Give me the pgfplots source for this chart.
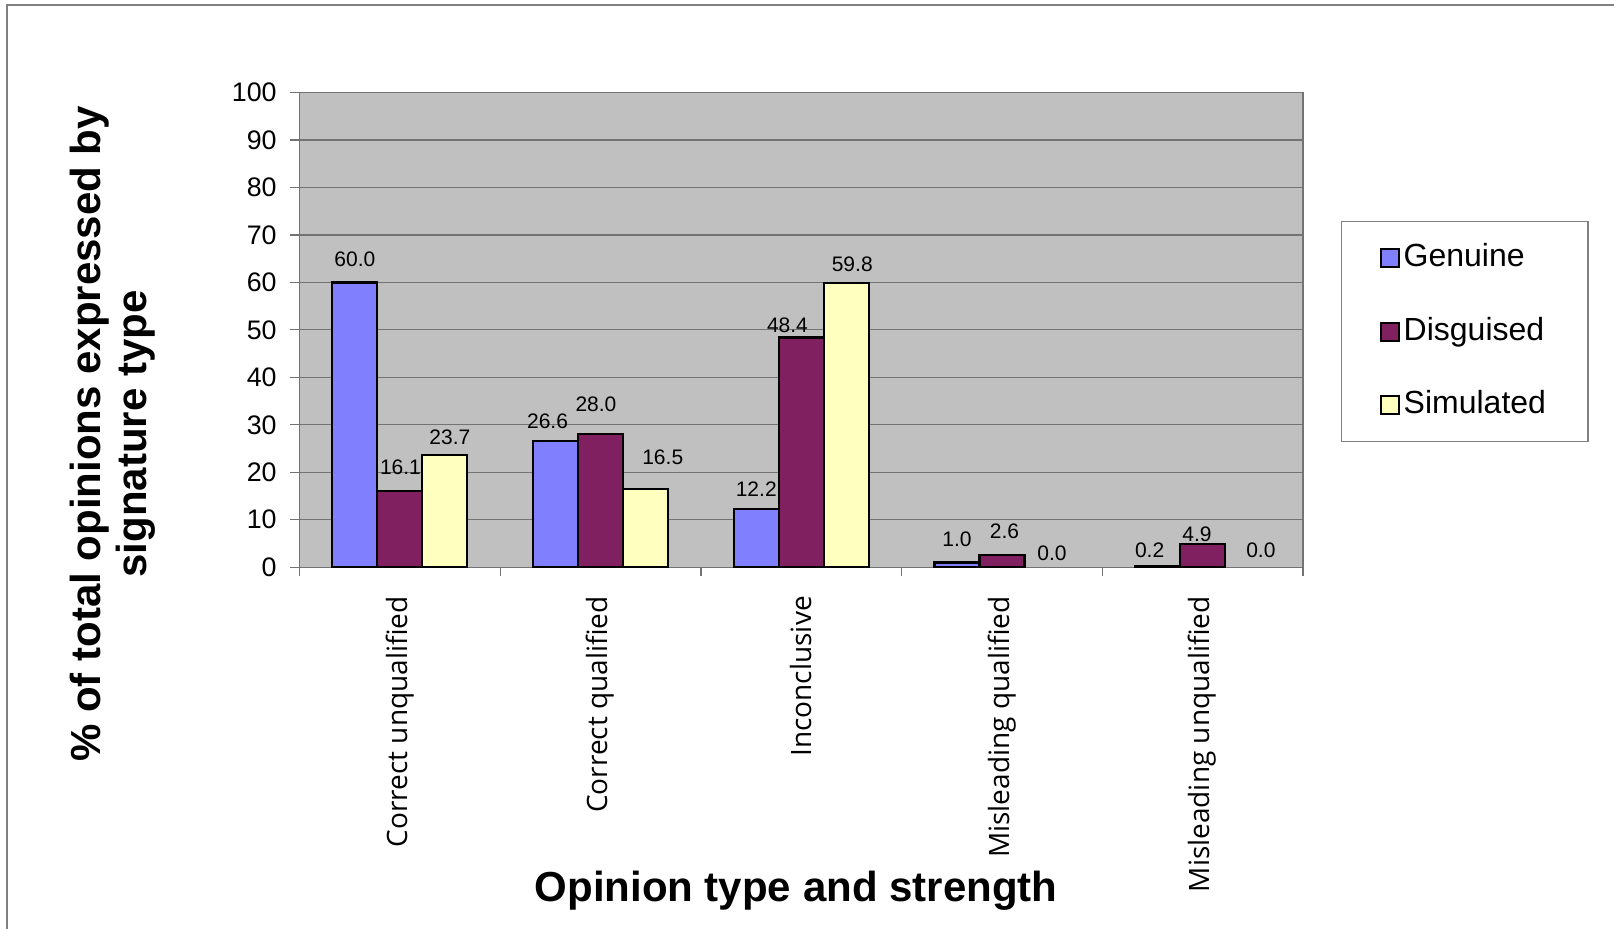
\documentclass[border=0pt]{standalone}
\usepackage{pgfplots}
\usepackage{pgfplotstable}
\pgfplotsset{compat=1.18}
\usepackage{fontspec}
\setmainfont{Liberation Sans}
\newfontfamily\osfont{Open Sans}
\definecolor{genuine}{RGB}{128,128,255}
\definecolor{disguised}{RGB}{128,32,96}
\definecolor{simulated}{RGB}{255,255,192}
\definecolor{plotbg}{RGB}{192,192,192}
\definecolor{framegray}{RGB}{128,128,128}

% x = category, y = percent, dx/dy = label offset (pt)
\pgfplotstableread{
x y dx dy
0 60.0 0.0 11.5
1 26.6 -4.0 10.0
2 12.2 0.0 10.2
3 1.0 0.0 11.5
4 0.2 -4.0 7.8
}\genuine
\pgfplotstableread{
x y dx dy
0 16.1 0.3 11.7
1 28.0 -2.3 14.9
2 48.4 -6.9 6.1
3 2.6 1.3 11.8
4 4.9 -2.8 4.8
}\disguised
\pgfplotstableread{
x y dx dy
0 23.7 2.5 8.6
1 16.5 8.6 15.9
2 59.8 3.0 9.4
}\simulated
% zero values: label only, no visible bar
\pgfplotstableread{
x y dx dy
3 0.0 2.5 7.2
4 0.0 6.6 8.7
}\simzero

\begin{document}
\begin{tikzpicture}
\useasboundingbox (0,0) rectangle (807pt,-464.5pt);
\draw[framegray, line width=1pt] (3.6pt,-470pt) -- (3.6pt,-2.6pt) -- (815pt,-2.6pt);

\begin{axis}[
    at={(149.75pt,-283.6pt)}, anchor=south west,
    scale only axis, width=501.75pt, height=237.3pt,
    axis background/.style={fill=plotbg},
    ybar=0pt, bar width=22.5pt,
    xmin=-0.5, xmax=4.5, ymin=0, ymax=100,
    xtick={0,...,4},
    xticklabels={Correct unqualified, Correct qualified, Inconclusive, Misleading qualified, Misleading unqualified},
    xticklabel style={font=\osfont\fontsize{14}{16}\selectfont, rotate=90, anchor=east, xshift=-6.5pt},
    xtick style={draw=none},
    extra x ticks={-0.5,0.5,1.5,2.5,3.5,4.5},
    extra x tick labels={},
    extra x tick style={xtick style={draw=black!55, line width=0.6pt}},
    xtick pos=bottom, ytick pos=left,
    ytick={0,10,...,100},
    ytick style={draw=black!55, line width=0.6pt},
    yticklabel style={font=\fontsize{13.4}{16}\selectfont, xshift=-3.4pt},
    /pgf/number format/assume math mode=true,
    tick align=outside, major tick length=4.5pt,
    ymajorgrids, major grid style={draw=black!55, line width=0.6pt},
    axis line style={draw=black!55, line width=0.6pt},
    every axis plot/.append style={draw=black, line width=1.1pt},
    nodes near coords={\pgfmathprintnumber[fixed,fixed zerofill,precision=1,assume math mode=true]{\pgfplotspointmeta}},
    visualization depends on={\thisrow{dx} \as \dx},
    visualization depends on={\thisrow{dy} \as \dy},
    every node near coord/.append style={font=\fontsize{10.5}{12}\selectfont, anchor=center, xshift=\dx pt, yshift=\dy pt, text=black},
    legend style={at={(1.038,0.7295)}, anchor=north west, draw=framegray, line width=0.6pt,
        font=\fontsize{16}{19}\selectfont, row sep=17.3pt, inner xsep=19pt, inner ysep=8.5pt,
        nodes={text height=12pt, text depth=3.5pt, inner sep=2pt}},
    legend cell align=left,
    legend image code/.code={\draw[#1, line width=1pt] (0pt,-4.5pt) rectangle (9pt,4.5pt);},
]
\addplot[fill=genuine, bar shift=-22.5pt] table[x=x, y=y] {\genuine};
\addlegendentry{Genuine}
\addplot[fill=disguised, bar shift=0pt] table[x=x, y=y] {\disguised};
\addlegendentry{Disguised}
\addplot[fill=simulated, bar shift=22.5pt] table[x=x, y=y] {\simulated};
\addlegendentry{Simulated}
\addplot[draw=none, fill=none, bar shift=22.5pt, forget plot] table[x=x, y=y] {\simzero};
\end{axis}

\node[font=\bfseries\fontsize{21}{23}\selectfont, rotate=90, align=center] at (56.5pt,-217pt)
    {\% of total opinions expressed by\\signature type};
\node[font=\bfseries\fontsize{21}{23}\selectfont] at (398pt,-445.5pt) {Opinion type and strength};
\end{tikzpicture}
\end{document}
